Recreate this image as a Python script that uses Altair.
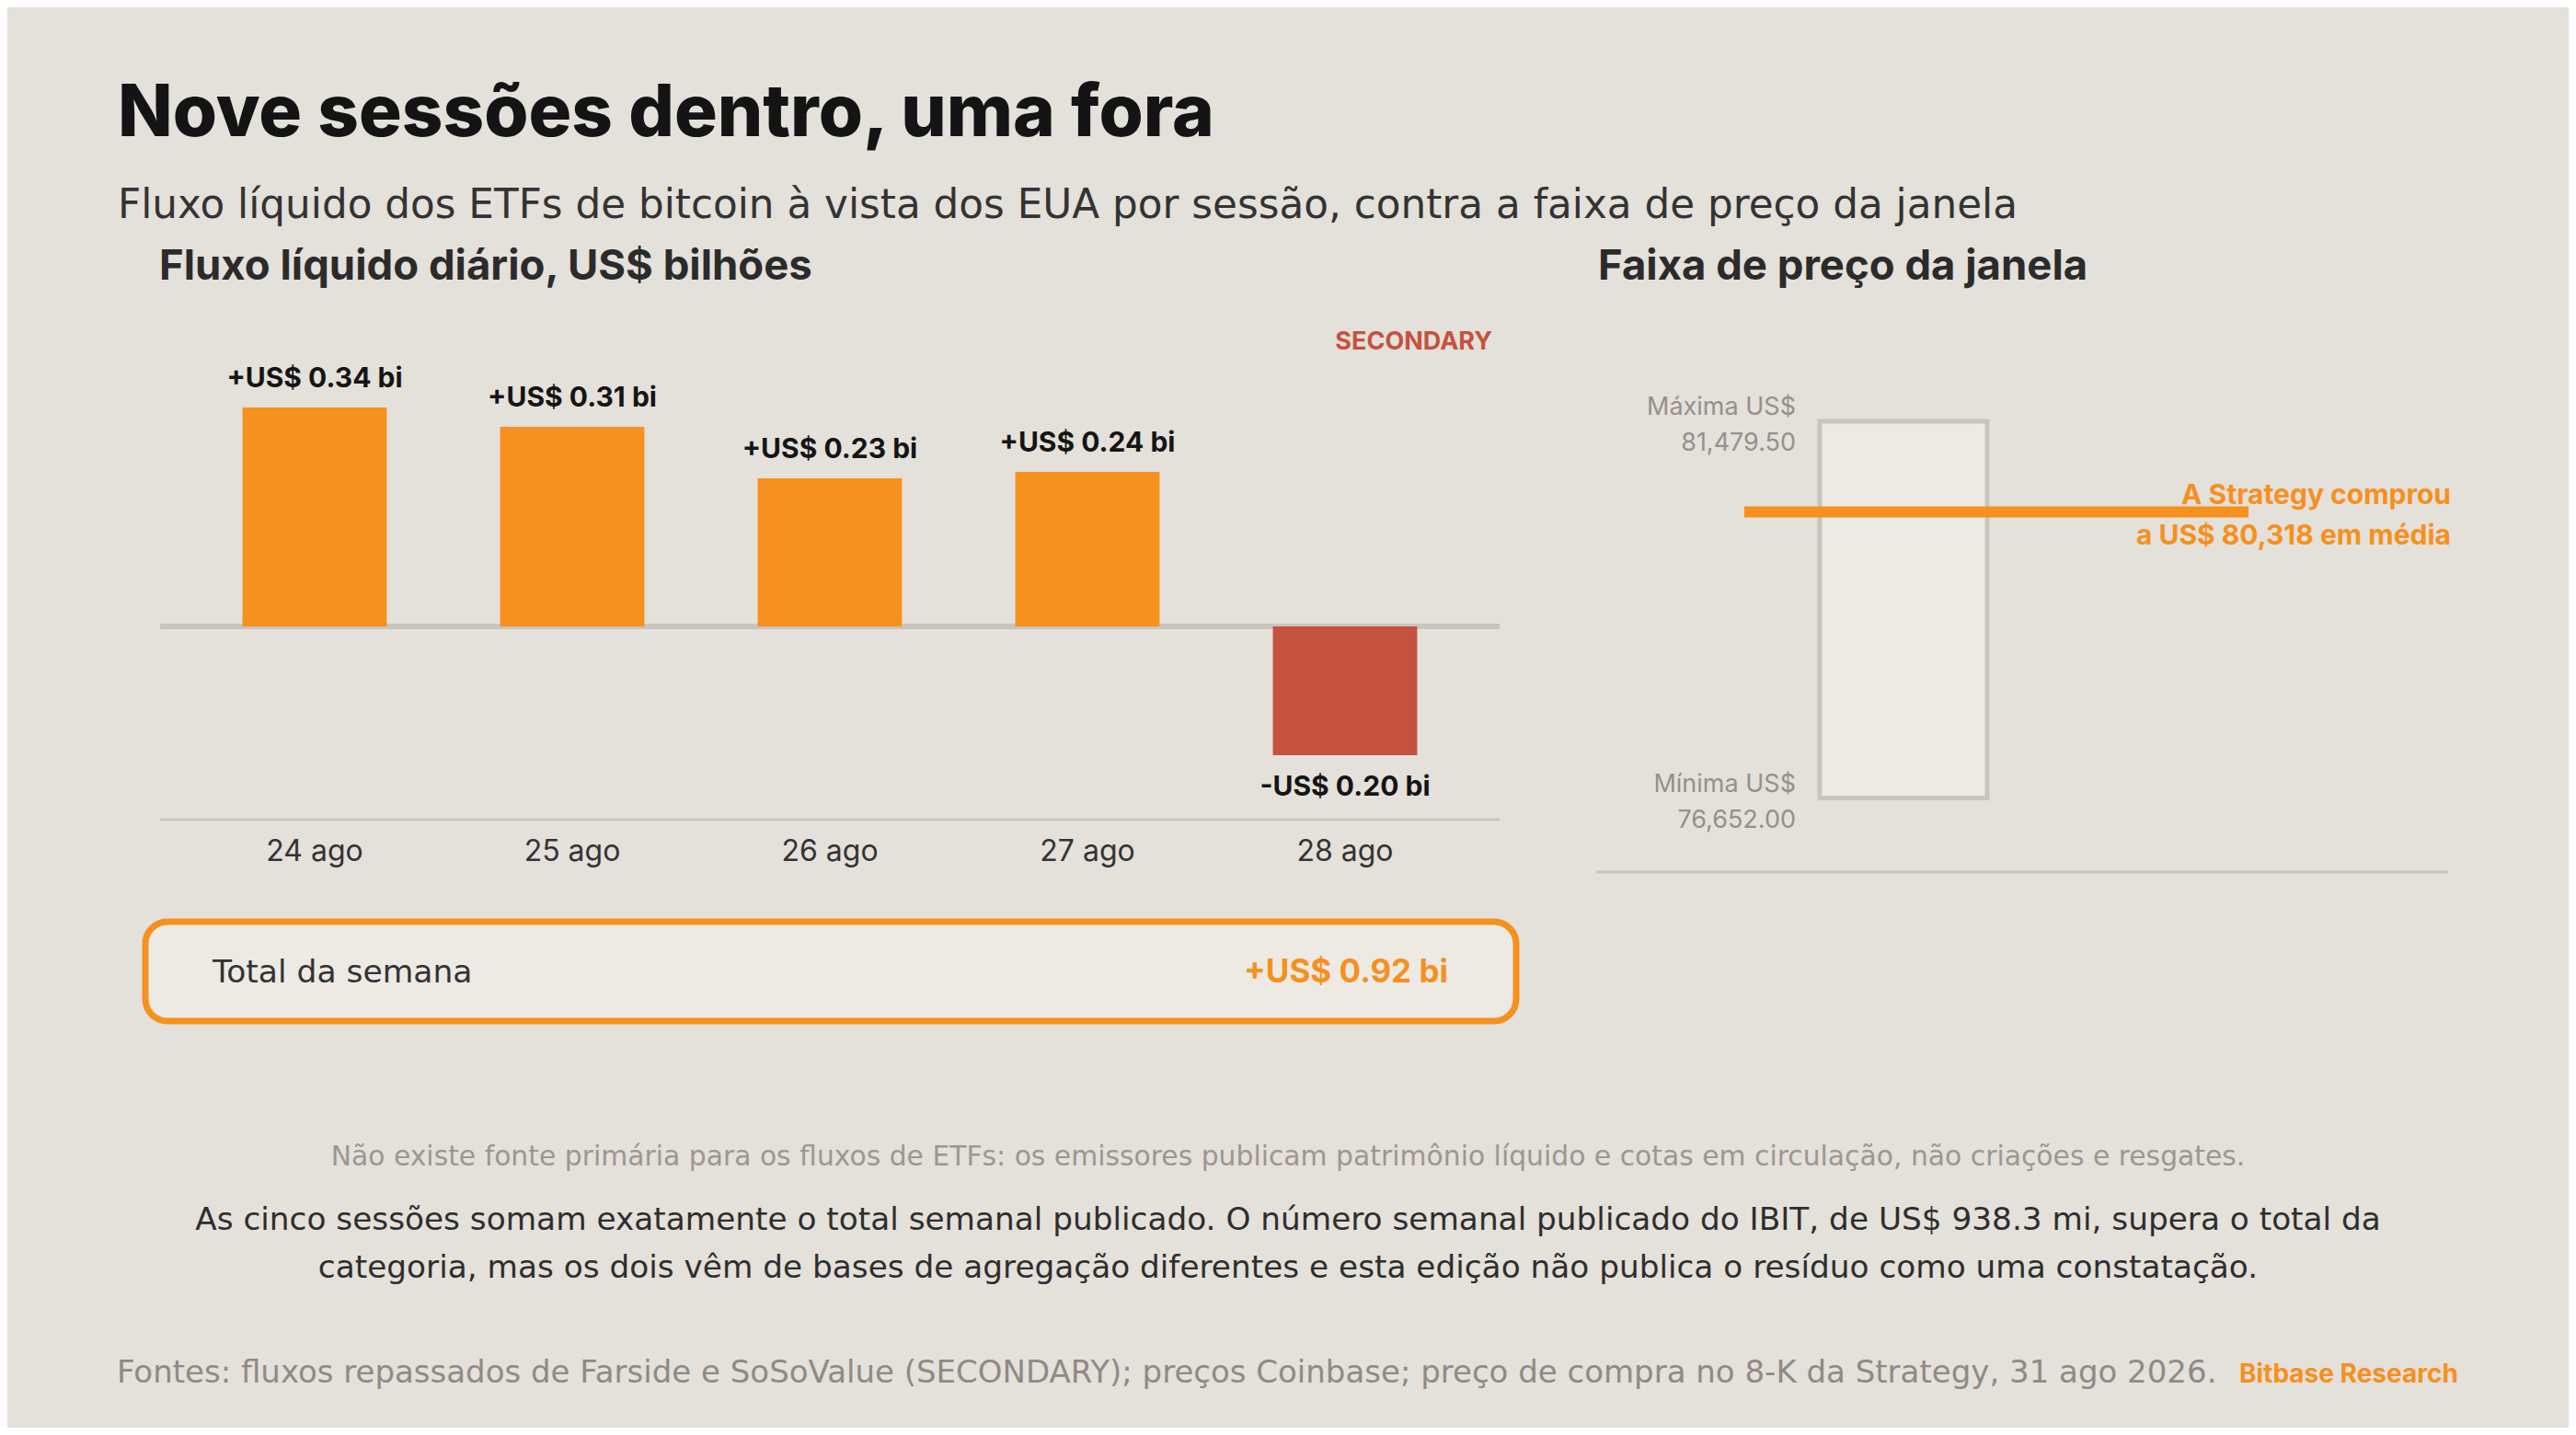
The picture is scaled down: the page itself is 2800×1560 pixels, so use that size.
import altair as alt
import pandas as pd

# daily net flows, US$ bn
days = ["24 ago", "25 ago", "26 ago", "27 ago", "28 ago"]
flows = [0.34, 0.31, 0.23, 0.24, -0.20]

# price window, US$
price_high = 81479.50
price_low = 76652.00
strategy_avg = 80318

title = "Nove sessões dentro, uma fora"
subtitle = "Fluxo líquido dos ETFs de bitcoin à vista dos EUA por sessão, contra a faixa de preço da janela"
left_title = "Fluxo líquido diário, US$ bilhões"
right_title = "Faixa de preço da janela"
tag = "SECONDARY"
total_label = "Total da semana"
note = ("Não existe fonte primária para os fluxos de ETFs: os emissores publicam patrimônio "
        "líquido e cotas em circulação, não criações e resgates.")
body_lines = [
    "As cinco sessões somam exatamente o total semanal publicado. O número semanal publicado "
    "do IBIT, de US$ 938.3 mi, supera o total da",
    "categoria, mas os dois vêm de bases de agregação diferentes e esta edição não publica "
    "o resíduo como uma constatação.",
]
sources = ("Fontes: fluxos repassados de Farside e SoSoValue (SECONDARY); preços Coinbase; "
           "preço de compra no 8-K da Strategy, 31 ago 2026.")
brand = "Bitbase Research"

BG = "#E4E0DA"
PANEL = "#EDEAE4"
ORANGE = "#F6901E"
RED = "#C4523F"
GRID = "#C9C4BD"
INK = "#2B2B2B"
GREY = "#94908A"
FONT = "Inter"
BODY = "DejaVu Sans"


def text(s, x, y, size, color=INK, weight=400, align="left", font=FONT):
    return (
        alt.Chart(pd.DataFrame({"t": [s]}))
        .mark_text(font=font, fontSize=size, fontWeight=weight, color=color,
                   align=align, baseline="alphabetic")
        .encode(x=alt.value(x), y=alt.value(y), text="t:N")
    )


# ---- daily flows panel ----
flow_df = pd.DataFrame({"day": days, "flow": flows})
flow_df["label"] = [("+" if v > 0 else "-") + f"US$ {abs(v):.2f} bi" for v in flows]

x_day = alt.X("day:N", axis=None,
              scale=alt.Scale(domain=days, range=[166, 1622], paddingInner=0.44, paddingOuter=0.32))
y_flow = alt.Y("flow:Q", axis=None,
               scale=alt.Scale(domain=[-0.30, 0.45], range=[883, 358], nice=False, zero=False))

base = alt.Chart(flow_df).encode(x=x_day)

zero_rule = (
    alt.Chart(pd.DataFrame({"flow": [0.0]}))
    .mark_rule(color=GRID, strokeWidth=6)
    .encode(y=y_flow, x=alt.value(166), x2=alt.value(1622))
)
axis_rule = (
    alt.Chart(pd.DataFrame({"flow": [-0.30]}))
    .mark_rule(color=GRID, strokeWidth=3)
    .encode(y=y_flow, x=alt.value(166), x2=alt.value(1622))
)
bars = base.mark_bar().encode(
    y=y_flow,
    y2=alt.datum(0),
    color=alt.condition("datum.flow > 0", alt.value(ORANGE), alt.value(RED)),
)
pos_labels = (
    base.transform_filter("datum.flow > 0")
    .mark_text(font=FONT, fontSize=30, fontWeight=700, color="#151515", baseline="alphabetic", dy=-22)
    .encode(y=y_flow, text="label:N")
)
neg_labels = (
    base.transform_filter("datum.flow <= 0")
    .mark_text(font=FONT, fontSize=30, fontWeight=700, color="#151515", baseline="alphabetic", dy=44)
    .encode(y=y_flow, text="label:N")
)
day_labels = base.mark_text(font=FONT, fontSize=32, color="#333333", baseline="alphabetic").encode(
    y=alt.value(928), text="day:N"
)
flows_layer = alt.layer(zero_rule, axis_rule, bars, pos_labels, neg_labels, day_labels)

# ---- price window panel ----
y_price_scale = alt.Scale(domain=[price_low, price_high], range=[859.5, 450], nice=False, zero=False)

range_rect = (
    alt.Chart(pd.DataFrame({"low": [price_low], "high": [price_high]}))
    .mark_rect(fill=PANEL, stroke=GRID, strokeWidth=5)
    .encode(x=alt.value(1970), x2=alt.value(2152),
            y=alt.Y("low:Q", scale=y_price_scale, axis=None), y2="high:Q")
)
price_df = pd.DataFrame({
    "price": [price_high, price_low],
    "label": [f"Máxima US$\n{price_high:,.2f}", f"Mínima US$\n{price_low:,.2f}"],
})
price_labels = (
    alt.Chart(price_df)
    .mark_text(font=FONT, fontSize=27, color=GREY, align="right", baseline="middle",
               lineBreak="\n", lineHeight=39, dy=-15)
    .encode(x=alt.value(1944), y=alt.Y("price:Q", scale=y_price_scale, axis=None), text="label:N")
)
strat_df = pd.DataFrame({
    "price": [strategy_avg],
    "label": [f"A Strategy comprou\na US$ {strategy_avg:,} em média"],
})
strat_rule = (
    alt.Chart(strat_df)
    .mark_rule(color=ORANGE, strokeWidth=12)
    .encode(y=alt.Y("price:Q", scale=y_price_scale, axis=None), x=alt.value(1888), x2=alt.value(2436))
)
strat_text = (
    alt.Chart(strat_df)
    .mark_text(font=FONT, fontSize=30, fontWeight=700, color=ORANGE, align="right",
               baseline="middle", lineBreak="\n", lineHeight=44, dy=-18)
    .encode(x=alt.value(2656), y=alt.Y("price:Q", scale=y_price_scale, axis=None), text="label:N")
)
right_rule = (
    alt.Chart(pd.DataFrame({"a": [0]}))
    .mark_rule(color=GRID, strokeWidth=3)
    .encode(x=alt.value(1727), x2=alt.value(2653), y=alt.value(940))
)
prices_layer = alt.layer(range_rect, strat_rule, price_labels, strat_text)

# ---- weekly total box ----
total_box = (
    alt.Chart(pd.DataFrame({"a": [0]}))
    .mark_rect(fill=PANEL, stroke=ORANGE, strokeWidth=7, cornerRadius=24)
    .encode(x=alt.value(150), x2=alt.value(1640), y=alt.value(994), y2=alt.value(1102))
)
total_value = f"+US$ {sum(flows):.2f} bi"

chart = (
    alt.layer(
        flows_layer,
        prices_layer,
        right_rule,
        total_box,
        text(title, 120, 140, 78, color="#141414", weight=800),
        text(subtitle, 120, 229, 43.7, color="#333333", font=BODY),
        text(left_title, 165, 296, 45.5, weight=700),
        text(right_title, 1729, 296, 45.5, weight=700),
        text(tag, 1614, 372, 27, color=RED, weight=700, align="right"),
        text(total_label, 223, 1060, 34.5, color="#333333", font=BODY),
        text(total_value, 1566, 1060, 35, color=ORANGE, weight=700, align="right"),
        text(note, 1392, 1259, 29.8, color="#9C978F", align="center", font=BODY),
        text(body_lines[0], 1392, 1329, 34.3, color="#2E2E2E", align="center", font=BODY),
        text(body_lines[1], 1392, 1381, 34.3, color="#2E2E2E", align="center", font=BODY),
        text(sources, 119, 1495, 34, color="#8F8A84", font=BODY),
        text(brand, 2426, 1495, 28, color=ORANGE, weight=700),
    )
    .resolve_scale(x="independent", y="independent")
    .properties(width=2784, height=1544, autosize="none", padding=0, background=BG)
    .configure_view(stroke=None)
)

chart.save("out.html", embed_options={"renderer": "svg", "actions": False})
